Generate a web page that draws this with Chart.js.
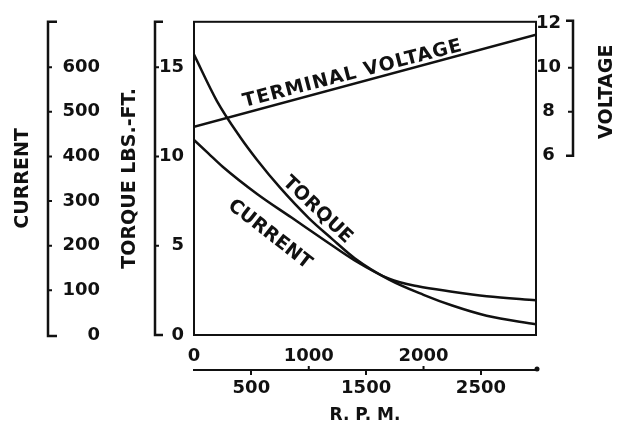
<!DOCTYPE html>
<html>
<head>
<meta charset="utf-8">
<script src="https://cdn.jsdelivr.net/npm/chart.js@4/dist/chart.umd.min.js"></script>
<style>
  html, body { margin: 0; padding: 0; background: #fff; }
  canvas { display: block; }
</style>
</head>
<body>
<canvas id="c" width="621" height="427"></canvas>
<script>
// ---- data ----
const rpmTorque = [0, 200, 400, 550, 750, 1000, 1200, 1400, 1700, 2000, 2250, 2550, 2980];
const torqueVals = [15.7, 13.1, 11.1, 9.8, 8.25, 6.55, 5.4, 4.3, 3.1, 2.25, 1.65, 1.08, 0.6];

const rpmCurrent = [0, 125, 250, 550, 850, 1150, 1400, 1700, 1950, 2250, 2550, 2980];
const currentVals = [437, 407, 377, 316, 263, 210, 167, 126, 109, 97, 87, 78];

const rpmVoltage = [0, 2980];
const voltageVals = [7.32, 11.5];

const rpmTicksUpper = [0, 1000, 2000];
const rpmTicksLower = [500, 1500, 2500];
const torqueTicks = [0, 5, 10, 15];
const currentTicks = [0, 100, 200, 300, 400, 500, 600];
const voltageTicks = [6, 8, 10, 12];

const FONT = "'DejaVu Sans', sans-serif";
const INK = '#111';

const pts = (xs, ys) => xs.map((x, i) => ({ x: x, y: ys[i] }));
const setTicks = (arr) => (s) => { s.ticks = arr.map(v => ({ value: v })); };

const decor = {
  id: 'decor',
  afterDraw(chart) {
    const ctx = chart.ctx;
    const ca = chart.chartArea;
    const s = chart.scales;
    ctx.save();
    ctx.strokeStyle = INK;
    ctx.fillStyle = INK;
    ctx.lineWidth = 2;
    ctx.lineCap = 'butt';
    // plot frame
    ctx.strokeRect(ca.left, ca.top, ca.right - ca.left, ca.bottom - ca.top);

    function bracket(x, yTop, yBot, dir, hook, tickYs, tickLen) {
      ctx.beginPath();
      ctx.moveTo(x + dir * hook, yTop);
      ctx.lineTo(x, yTop);
      ctx.lineTo(x, yBot);
      ctx.lineTo(x + dir * hook, yBot);
      ctx.lineWidth = 2.5;
      ctx.stroke();
      ctx.beginPath();
      tickYs.forEach(y => { ctx.moveTo(x, y); ctx.lineTo(x + dir * tickLen, y); });
      ctx.lineWidth = 2;
      ctx.stroke();
    }
    const yC = s.yC;
    bracket(yC.left + 48, ca.top, ca.bottom + 1, 1, 9,
      currentTicks.filter(v => v > 0).map(v => yC.getPixelForValue(v)), 4);
    const yT = s.yT;
    bracket(yT.left + 44, ca.top, yT.getPixelForValue(0), 1, 8,
      torqueTicks.filter(v => v > 0).map(v => yT.getPixelForValue(v)), 4);
    const yV = s.yV;
    bracket(yV.left + 37, yV.getPixelForValue(12) - 3, yV.getPixelForValue(6), -1, 7,
      voltageTicks.filter(v => v > 6 && v < 12).map(v => yV.getPixelForValue(v)), 5);

    const x2 = s.x2;
    ctx.beginPath();
    ctx.arc(ca.right + 1, x2.top - 1, 2.5, 0, Math.PI * 2);
    ctx.fill();
    ctx.beginPath();
    rpmTicksUpper.filter(v => v > 0).forEach(v => {
      const px = x2.getPixelForValue(v);
      ctx.moveTo(px, x2.top); ctx.lineTo(px, x2.top - 4);
    });
    ctx.lineWidth = 2;
    ctx.stroke();

    ctx.save();
    ctx.translate(yV.left + 71, (yV.getPixelForValue(12) + yV.getPixelForValue(6)) / 2 + 2);
    ctx.rotate(-Math.PI / 2);
    ctx.font = "bold 19px " + FONT;
    ctx.textAlign = 'center';
    ctx.textBaseline = 'middle';
    ctx.fillText('VOLTAGE', 0, 0);
    ctx.restore();

    const xs = s.x;
    function label(text, rpm, yPix, deg, size, spacing) {
      ctx.save();
      ctx.translate(xs.getPixelForValue(rpm), yPix);
      ctx.rotate(deg * Math.PI / 180);
      ctx.font = "bold " + size + "px " + FONT;
      if (spacing) ctx.letterSpacing = spacing;
      ctx.textAlign = 'center';
      ctx.textBaseline = 'middle';
      ctx.fillText(text, 0, 0);
      ctx.restore();
    }
    label('TERMINAL VOLTAGE', 1384, yV.getPixelForValue(9.72), -14.5, 19, '1px');
    label('TORQUE', 1075, yT.getPixelForValue(7.0), 43.5, 19);
    label('CURRENT', 660, yC.getPixelForValue(225), 38, 19);
    ctx.restore();
  }
};

new Chart(document.getElementById('c'), {
  type: 'line',
  data: {
    datasets: [
      { label: 'Terminal voltage', data: pts(rpmVoltage, voltageVals), yAxisID: 'yV', xAxisID: 'x' },
      { label: 'Torque', data: pts(rpmTorque, torqueVals), yAxisID: 'yT', xAxisID: 'x' },
      { label: 'Current', data: pts(rpmCurrent, currentVals), yAxisID: 'yC', xAxisID: 'x' }
    ]
  },
  options: {
    responsive: false,
    devicePixelRatio: 1,
    animation: false,
    layout: { padding: { top: 17, left: 0, right: 0, bottom: 0 } },
    elements: {
      point: { radius: 0 },
      line: { borderColor: INK, borderWidth: 2.5, cubicInterpolationMode: 'monotone', fill: false }
    },
    plugins: { legend: { display: false }, tooltip: { enabled: false } },
    scales: {
      x: {
        type: 'linear', position: 'bottom', weight: 0, min: 0, max: 2980,
        grid: { display: false, drawTicks: false }, border: { display: false },
        afterBuildTicks: setTicks(rpmTicksUpper),
        afterFit: (s) => { s.height = 35; },
        ticks: { autoSkip: false, maxRotation: 0, padding: 11, color: INK,
          font: { family: FONT, size: 18, weight: 'bold' }, callback: (v) => String(v) }
      },
      x2: {
        type: 'linear', position: 'bottom', weight: 1, min: 0, max: 2980,
        grid: { display: true, drawOnChartArea: false, drawTicks: true, tickLength: 5, color: INK, lineWidth: 2 },
        border: { display: true, color: INK, width: 2 },
        afterBuildTicks: setTicks(rpmTicksLower),
        afterFit: (s) => { s.height = 57; },
        ticks: { autoSkip: false, maxRotation: 0, padding: 3, color: INK,
          font: { family: FONT, size: 18, weight: 'bold' }, callback: (v) => String(v) },
        title: { display: true, text: 'R. P. M.', color: INK, padding: { top: 0, bottom: 1 },
          font: { family: FONT, size: 17, weight: 'bold' } }
      },
      yT: {
        type: 'linear', position: 'left', weight: 0, min: 0, max: 17.54,
        grid: { display: false, drawTicks: false }, border: { display: false },
        afterBuildTicks: setTicks(torqueTicks),
        afterFit: (s) => { s.width = 83; },
        ticks: { autoSkip: false, padding: 10, color: INK,
          font: { family: FONT, size: 18, weight: 'bold' } },
        title: { display: true, text: 'TORQUE LBS.-FT.', color: INK, padding: { top: 8, bottom: 0 },
          font: { family: FONT, size: 19, weight: 'bold' } }
      },
      yC: {
        type: 'linear', position: 'left', weight: 1, min: 0, max: 701.6,
        grid: { display: false, drawTicks: false }, border: { display: false },
        afterBuildTicks: setTicks(currentTicks),
        afterFit: (s) => { s.width = 111; },
        ticks: { autoSkip: false, padding: 11, color: INK,
          font: { family: FONT, size: 18, weight: 'bold' } },
        title: { display: true, text: 'CURRENT', color: INK, padding: { top: 12, bottom: 0 },
          font: { family: FONT, size: 19, weight: 'bold' } }
      },
      yV: {
        type: 'linear', position: 'right', weight: 0, min: -2.15, max: 12.09,
        grid: { display: false, drawTicks: false }, border: { display: false },
        afterBuildTicks: setTicks(voltageTicks),
        afterFit: (s) => { s.width = 85; },
        ticks: { autoSkip: false, crossAlign: 'center', padding: 0, color: INK,
          font: { family: FONT, size: 18, weight: 'bold' } }
      }
    }
  },
  plugins: [decor]
});
</script>
</body>
</html>
